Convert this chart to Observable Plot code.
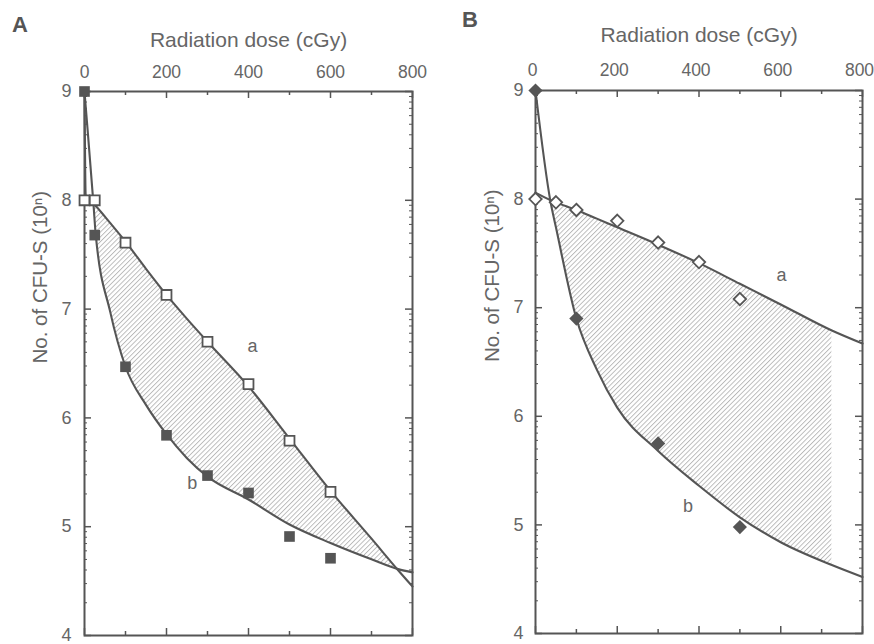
<!DOCTYPE html>
<html>
<head>
<meta charset="utf-8">
<script src="https://cdn.jsdelivr.net/npm/d3@7"></script>
<script src="https://cdn.jsdelivr.net/npm/@observablehq/plot@0.6"></script>
<style>
  html, body { margin: 0; padding: 0; background: #ffffff; }
  #wrap { position: relative; width: 874px; height: 644px; font-family: "Liberation Sans", Arial, sans-serif; }
  .panel { position: absolute; top: 0; }
  .letter { position: absolute; font-weight: bold; font-size: 22px; color: #555; font-family: "Liberation Sans", Arial, sans-serif; }
</style>
</head>
<body>
<div id="wrap">
  <div class="letter" style="left:12px; top:12px;">A</div>
  <div class="letter" style="left:462px; top:7px;">B</div>
  <div class="panel" id="pA" style="left:0px;"></div>
  <div class="panel" id="pB" style="left:437px;"></div>
</div>
<script>
// ---------- data ----------
const xTitle = "Radiation dose (cGy)";
const yTitle = "No. of CFU-S (10\u207F)";
const majorX = [0, 200, 400, 600, 800];
const minorX = [100, 300, 500, 700];
const majorY = [4, 5, 6, 7, 8, 9];

// Panel A – squares
const openDoseA   = [0, 25, 100, 200, 300, 400, 500, 600];
const openValA    = [8.0, 8.0, 7.61, 7.13, 6.70, 6.31, 5.79, 5.32];
const filledDoseA = [0, 25, 100, 200, 300, 400, 500, 600];
const filledValA  = [9.0, 7.68, 6.47, 5.84, 5.47, 5.31, 4.91, 4.71];
// fitted curves A (read at common doses)
const curveDoseA = [0, 3, 22, 27, 63, 100, 150, 200, 250, 300, 400, 500, 600, 700, 765, 800];
const curveA_a   = [9.0, 8.05, 7.97, 7.95, 7.79, 7.62, 7.37, 7.13, 6.91, 6.70, 6.29, 5.81, 5.33, 4.89, 4.60, 4.45];
const curveA_b   = [9.0, 8.86, 7.96, 7.70, 6.97, 6.47, 6.12, 5.85, 5.63, 5.46, 5.25, 5.02, 4.85, 4.70, 4.61, 4.58];
const hatchRangeA = [22, 765];
const labelsA = [{t: "a", dose: 410, n: 6.66}, {t: "b", dose: 263, n: 5.40}];

// Panel B – diamonds
const openDoseB   = [0, 50, 100, 200, 300, 400, 500];
const openValB    = [8.0, 7.97, 7.90, 7.80, 7.60, 7.42, 7.08];
const filledDoseB = [0, 100, 300, 500];
const filledValB  = [9.0, 6.90, 5.75, 4.98];
const curveDoseB = [0, 37, 50, 100, 150, 200, 300, 400, 500, 600, 725, 800];
const curveB_a   = [8.06, 7.99, 7.97, 7.90, 7.82, 7.74, 7.58, 7.41, 7.22, 7.03, 6.79, 6.67];
const curveB_b   = [9.0, 7.97, 7.74, 6.90, 6.43, 6.08, 5.68, 5.36, 5.07, 4.84, 4.63, 4.52];
const hatchRangeB = [37, 725];
const labelsB = [{t: "a", dose: 602, n: 7.30}, {t: "b", dose: 373, n: 5.17}];

// ---------- drawing ----------
const INK = "#555";
const TXT = "#666";
const minorY = [];
for (let n = 4; n < 9; n++) for (let k = 2; k <= 9; k++) minorY.push(n + Math.log10(k));

function panel(opts) {
  const W = 437, H = 644;
  const {mL, mR, mT, mB, id} = opts;
  const pw = W - mL - mR, ph = H - mT - mB;
  const rows = opts.curveDose.map((d, i) => ({dose: d, a: opts.curveA[i], b: opts.curveB[i]}));
  const hatch = rows.filter(r => r.dose >= opts.hatchRange[0] && r.dose <= opts.hatchRange[1]);
  const open = opts.openDose.map((d, i) => ({dose: d, n: opts.openVal[i]}));
  const filled = opts.filledDose.map((d, i) => ({dose: d, n: opts.filledVal[i]}));
  const svg = Plot.plot({
    width: W, height: H,
    marginLeft: mL, marginRight: mR, marginTop: mT, marginBottom: mB,
    style: {fontFamily: '"Liberation Sans", Arial, sans-serif', fontSize: "18px", color: TXT, background: "transparent"},
    x: {domain: [0, 800]},
    y: {domain: [4, 9]},
    marks: [
      Plot.areaY(hatch, {x: "dose", y1: "a", y2: "b", fill: `url(#${id})`, curve: "monotone-x"}),
      Plot.line(rows, {x: "dose", y: "a", stroke: INK, strokeWidth: 2.1, curve: "monotone-x"}),
      Plot.line(rows, {x: "dose", y: "b", stroke: INK, strokeWidth: 2.1, curve: "monotone-x"}),
      // axis labels
      Plot.axisX({anchor: "top", ticks: majorX, tickSize: 0, tickPadding: opts.xPad, label: null, fontSize: 17.5, fill: TXT, dx: opts.xDx}),
      Plot.axisY({anchor: "left", ticks: majorY, tickSize: 0, tickPadding: opts.yPad, label: null, tickFormat: d => d, fontSize: 18, fill: TXT}),
      // inward ticks
      Plot.tickX(majorX, {x: d => d, insetBottom: ph - 7, stroke: INK, strokeWidth: 1.5}),
      Plot.tickX(minorX, {x: d => d, insetBottom: ph - 4, stroke: INK, strokeWidth: 1.5}),
      Plot.tickX(majorX, {x: d => d, insetTop: ph - 7, stroke: INK, strokeWidth: 1.5}),
      Plot.tickX(minorX, {x: d => d, insetTop: ph - 4, stroke: INK, strokeWidth: 1.5}),
      Plot.tickY(majorY, {y: d => d, insetRight: pw - 7, stroke: INK, strokeWidth: 1.5}),
      Plot.tickY(minorY, {y: d => d, insetRight: pw - 3, stroke: INK, strokeWidth: 1}),
      Plot.tickY(majorY, {y: d => d, insetLeft: pw - 7, stroke: INK, strokeWidth: 1.5}),
      Plot.tickY(minorY, {y: d => d, insetLeft: pw - 3, stroke: INK, strokeWidth: 1}),
      Plot.frame({stroke: INK, strokeWidth: 2}),
      // titles
      Plot.text([xTitle], {frameAnchor: "top", dy: opts.titleY - mT, fontSize: 21, fill: TXT, lineAnchor: "middle"}),
      Plot.text([yTitle], {frameAnchor: "left", dx: opts.yLabelX - mL, rotate: -90, fontSize: 20.5, fill: TXT, lineAnchor: "middle"}),
      // curve labels
      Plot.text(opts.labels, {x: "dose", y: "n", text: "t", fontSize: 18, fill: TXT}),
      // data points
      Plot.dot(open, {x: "dose", y: "n", symbol: opts.symbol, r: opts.rOpen, fill: "white", stroke: INK, strokeWidth: 1.8}),
      Plot.dot(filled, {x: "dose", y: "n", symbol: opts.symbol, r: opts.rFilled, fill: INK, stroke: "none"})
    ]
  });
  const defs = d3.select(svg).insert("defs", ":first-child");
  const pat = defs.append("pattern")
    .attr("id", id).attr("patternUnits", "userSpaceOnUse")
    .attr("width", 3.4).attr("height", 3.4)
    .attr("patternTransform", "rotate(45)");
  pat.append("line").attr("x1", 0.5).attr("y1", 0).attr("x2", 0.5).attr("y2", 3.4)
    .attr("stroke", "#a6a6a6").attr("stroke-width", 0.75);
  return svg;
}

document.getElementById("pA").appendChild(panel({
  id: "hatchA", mL: 84, mR: 25, mT: 91, mB: 9, xPad: 14, xDx: 0, yPad: 13, titleY: 40, yLabelX: 40,
  curveDose: curveDoseA, curveA: curveA_a, curveB: curveA_b, hatchRange: hatchRangeA,
  openDose: openDoseA, openVal: openValA, filledDose: filledDoseA, filledVal: filledValA,
  symbol: "square", rOpen: 5.6, rFilled: 6.0, labels: labelsA
}));
document.getElementById("pB").appendChild(panel({
  id: "hatchB", mL: 98, mR: 12, mT: 90, mB: 11, xPad: 15, xDx: -3, yPad: 12, titleY: 35, yLabelX: 55,
  curveDose: curveDoseB, curveA: curveB_a, curveB: curveB_b, hatchRange: hatchRangeB,
  openDose: openDoseB, openVal: openValB, filledDose: filledDoseB, filledVal: filledValB,
  symbol: "diamond2", rOpen: 5.6, rFilled: 6.4, labels: labelsB
}));
</script>
</body>
</html>
